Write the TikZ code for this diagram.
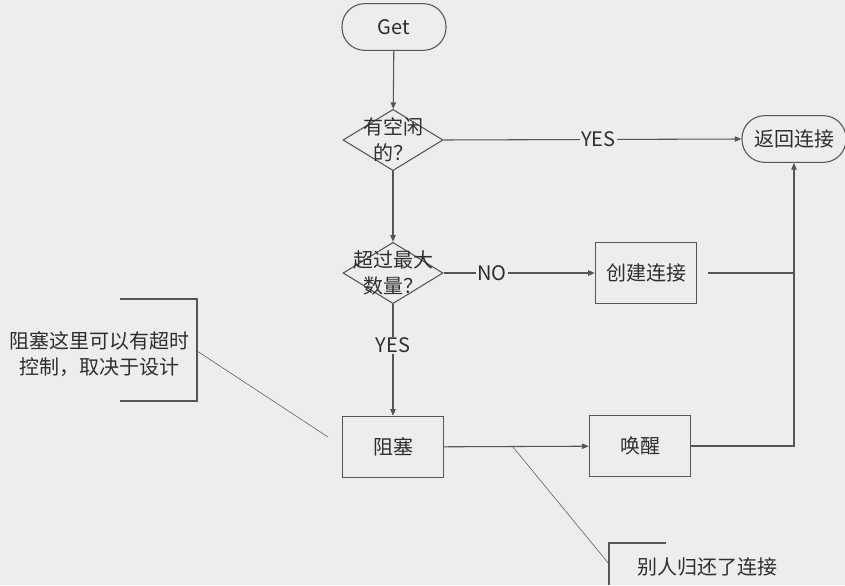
\documentclass[tikz,border=0pt]{standalone}
\usepackage{fontspec}
\setmainfont{Noto Sans CJK SC}
\usetikzlibrary{shapes.geometric,arrows.meta}
\definecolor{bgcol}{HTML}{EDEDED}
\definecolor{linecol}{HTML}{555555}
\definecolor{txtcol}{HTML}{2E2E2E}
\tikzset{
  term/.style={draw=linecol,thick,rounded corners=17pt,minimum width=78pt,minimum height=35pt,text=txtcol},
  process/.style={draw=linecol,thick,minimum width=76pt,minimum height=46pt,text=txtcol},
  decision/.style={draw=linecol,thick,diamond,aspect=1.64,minimum width=75pt,minimum height=46pt,inner sep=0pt,
    label={[align=center,text=txtcol,font=\fontsize{15}{19.5}\selectfont]center:#1}},
  flow/.style={draw=linecol,thick,-{Triangle[length=5pt,width=4pt]}},
  tag/.style={fill=bgcol,inner sep=1pt,text=txtcol},
}
\begin{document}
\begin{tikzpicture}[x=0.75pt,y=-0.75pt,font=\fontsize{15}{19.5}\selectfont]
          \useasboundingbox (0,0) rectangle (845,585);
          \fill[bgcol] (0,0) rectangle (845,585);
          \node[term] (get) at (394,27) {Get};
          \node[decision={有空闲\\的？}] (free) at (393,140) {};
          \node[decision={超过最大\\数量？}] (full) at (393,273) {};
          \node[term] (ret) at (794,139) {返回连接};
          \node[process] (create) at (646,273) {创建连接};
          \node[process] (block) at (393,447) {阻塞};
          \node[process] (wake) at (640,446) {唤醒};
          % notes
          \node[text=txtcol,align=center] (tip) at (99,354) {阻塞这里可以有超时\\控制，取决于设计};
          \node[text=txtcol] (back) at (707,567) {别人归还了连接};
          \draw[linecol,thick] (120,299) -- (197,299) -- (197,401) -- (120,401);
          \draw[linecol,thick] (666,543) -- (609,543) -- (609,585);
          \coordinate (tipend) at (328,437);
          \coordinate (split) at (513,447);
          \draw[linecol] (197,351) -- (tipend);
          \draw[linecol] (split) -- (609,564);
          % flow
          \draw[flow] (get) -- (free);
          \draw[flow] (free) -- (full);
          \draw[flow] (free.east) -- node[tag,pos=0.52] {YES} (ret.west);
          \draw[flow] (full.east) -- node[tag,pos=0.32] {NO} (create.west);
          \draw[flow] (full.south) -- node[tag,pos=0.37] {YES} (block.north);
          \draw[flow] (block) -- (wake);
          \draw[flow] (wake.east) -| (ret.south);
          \draw[linecol,thick,shorten <=8pt] (create.east) -- (create.east -| ret.south);
        \end{tikzpicture}
\end{document}
